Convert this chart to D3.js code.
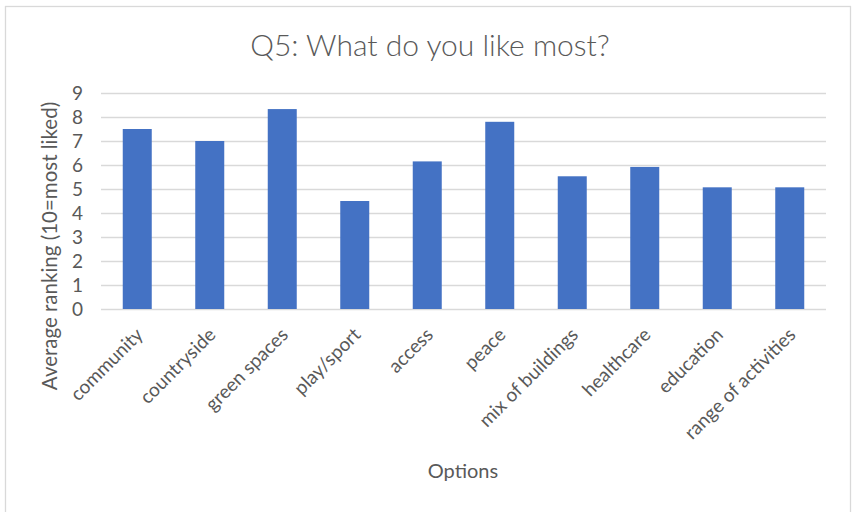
<!DOCTYPE html>
<html>
<head>
<meta charset="utf-8">
<script src="https://cdn.jsdelivr.net/npm/d3@7"></script>
<style>
  body { margin: 0; background: #fff; }
  svg { display: block; }
  text { font-family: Lato, "Open Sans", sans-serif; fill: #595959; }
</style>
</head>
<body>
<script>
// chart values
var options = ["community", "countryside", "green spaces", "play/sport", "access",
    "peace", "mix of buildings", "healthcare", "education", "range of activities"];
var rankings = [7.5, 7.0, 8.33, 4.5, 6.15, 7.8, 5.53, 5.92, 5.07, 5.07];
var yTicks = [0, 1, 2, 3, 4, 5, 6, 7, 8, 9];

function barChart() {
    var width = 854,
        height = 512,
        plotLeft = 101, plotRight = 826,
        plotTop = 93, plotBottom = 309;

    var svg = d3.select("body").append("svg")
        .attr("width", width)
        .attr("height", height);

    // chart area frame
    svg.append("rect")
        .attr("x", 5.5).attr("y", 6.5)
        .attr("width", 845).attr("height", 520)
        .attr("fill", "#fff")
        .attr("stroke", "#d9d9d9")
        .attr("stroke-width", 1.3);

    var x = d3.scaleBand()
        .domain(options)
        .range([plotLeft, plotRight])
        .paddingInner(0.6)
        .paddingOuter(0.3);

    var y = d3.scaleLinear()
        .domain([0, 9])
        .range([plotBottom, plotTop]);

    // gridlines + y labels
    var yAxis = svg.append("g")
        .attr("transform", "translate(" + plotLeft + ",0)")
        .call(d3.axisLeft(y).tickValues(yTicks).tickSize(-(plotRight - plotLeft)).tickPadding(18));
    yAxis.select(".domain").remove();
    yAxis.selectAll("line").attr("stroke", "#d9d9d9").attr("stroke-width", 1.4);
    yAxis.selectAll("text")
        .style("font-size", "19px")
        .attr("fill", "#595959");

    // bars
    svg.selectAll(".bar")
        .data(rankings)
        .enter()
        .append("rect")
        .attr("class", "bar")
        .attr("x", function (d, i) { return x(options[i]); })
        .attr("y", function (d) { return y(d); })
        .attr("width", x.bandwidth())
        .attr("height", function (d) { return y(0) - y(d); })
        .attr("fill", "#4472c4");

    // rotated category labels
    svg.selectAll(".xlab")
        .data(options)
        .enter()
        .append("text")
        .attr("class", "xlab")
        .attr("transform", function (d) {
            return "translate(" + (x(d) + x.bandwidth() / 2 + 7) + "," + (plotBottom + 27) + ")rotate(-45)";
        })
        .attr("text-anchor", "end")
        .style("font-size", "19px")
        .text(function (d) { return d; });

    // titles
    svg.append("text")
        .attr("x", 430).attr("y", 56)
        .attr("text-anchor", "middle")
        .style("font-size", "30px")
        .style("font-weight", 300)
        .text("Q5: What do you like most?");

    svg.append("text")
        .attr("transform", "translate(57,246)rotate(-90)")
        .attr("text-anchor", "middle")
        .style("font-size", "20.5px")
        .text("Average ranking (10=most liked)");

    svg.append("text")
        .attr("x", 463).attr("y", 478)
        .attr("text-anchor", "middle")
        .style("font-size", "20px")
        .text("Options");
}

barChart();
</script>
</body>
</html>
